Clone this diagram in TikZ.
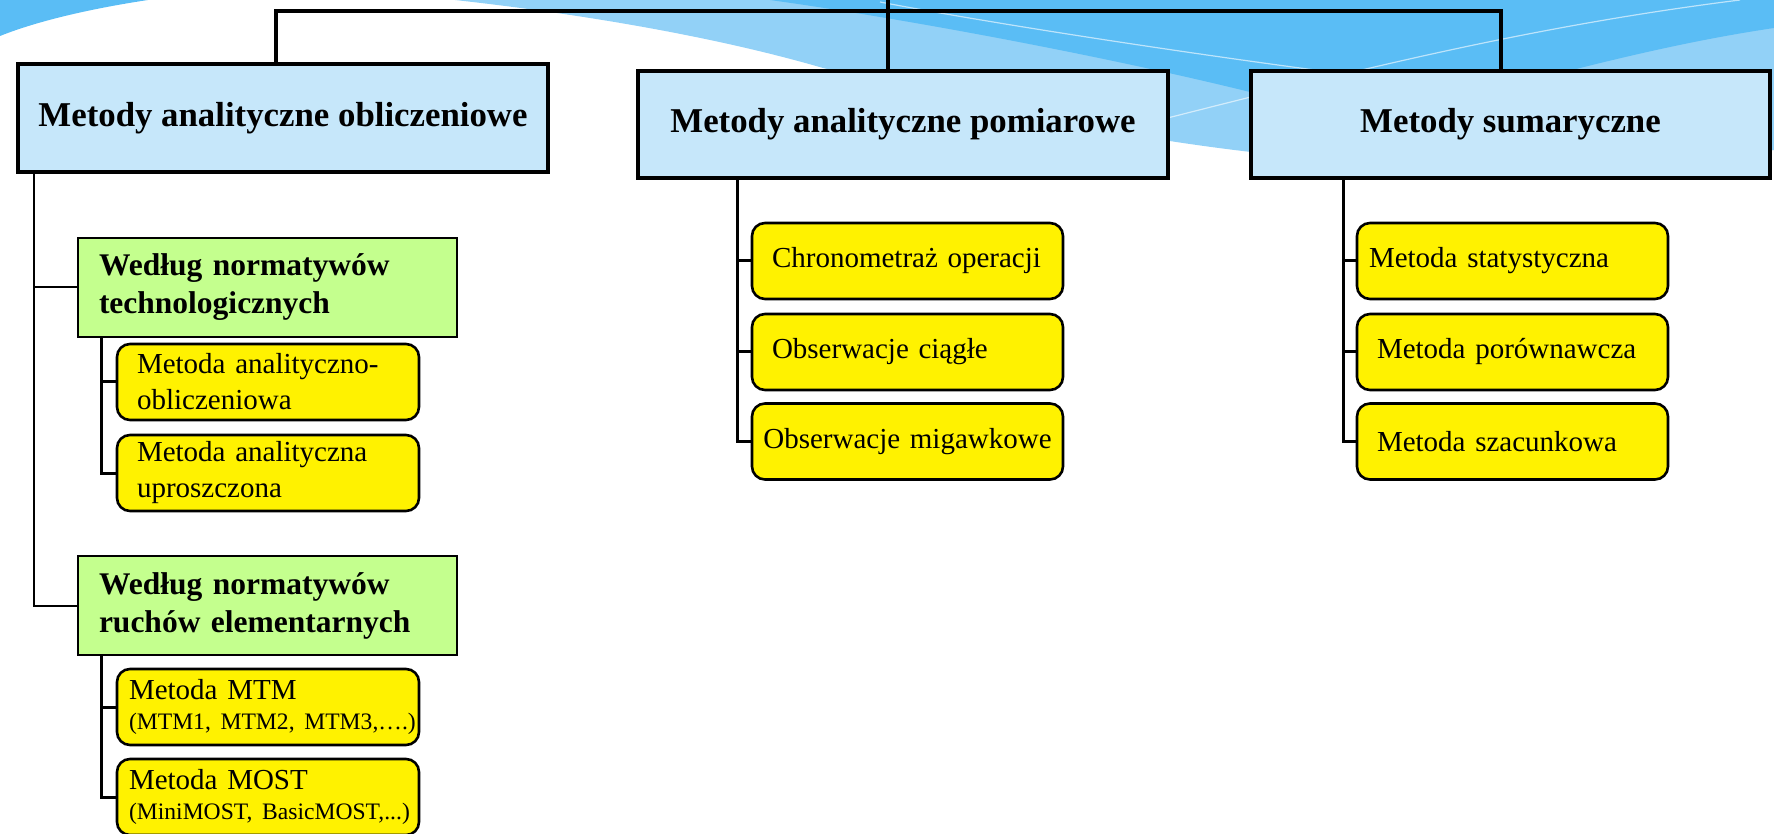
\documentclass[tikz,border=0pt]{standalone}
\usepackage{fontspec}
\setmainfont{Liberation Serif}
\usepackage{xcolor}

\definecolor{skyband}{RGB}{90,189,245}
\definecolor{skylight}{RGB}{146,209,247}
\definecolor{headblue}{RGB}{198,231,250}
\definecolor{leafgreen}{RGB}{196,255,142}

\begin{document}
\begin{tikzpicture}[x=0.5pt, y=-0.5pt,
  head/.style={draw, line width=2pt, fill=headblue, outer sep=0pt, minimum width=265pt, minimum height=53.5pt, font=\bfseries\fontsize{17.4}{21}\selectfont},
  group/.style={draw, line width=1pt, fill=leafgreen, outer sep=0pt, text width=168.5pt, inner xsep=10.5pt, minimum height=49.5pt, align=left, font=\bfseries\fontsize{15.75}{19}\selectfont},
  leaf/.style={draw, line width=1.3pt, fill=yellow, outer sep=0pt, rounded corners=6.5pt, minimum height=38pt, inner ysep=0pt, inner xsep=10pt, align=left, font=\fontsize{14.5}{18}\selectfont},
  trunk/.style={line width=2pt},
  stem/.style={line width=1pt},
  twig/.style={line width=1.5pt}]
  \useasboundingbox (0,0) rectangle (1774,834);

  \fill[skyband] (0,0) -- (148,0) .. controls (95,8) and (40,20) .. (0,36) -- cycle;
  \fill[skylight] (455,0) .. controls (590,15) and (720,38) .. (823,68) .. controls (950,97) and (1080,132) .. (1251,152) .. controls (1450,175) and (1650,170) .. (1774,150) -- (1774,0) -- cycle;
  \fill[skyband] (770,0) .. controls (900,18) and (1100,55) .. (1250,92) .. controls (1400,128) and (1470,100) .. (1580,68) .. controls (1660,48) and (1720,36) .. (1774,28) -- (1774,0) -- cycle;
  \draw[white, line width=0.6pt, opacity=0.6] (880,2) .. controls (1000,25) and (1200,55) .. (1330,72);
  \draw[white, line width=0.6pt, opacity=0.6] (1100,135) .. controls (1300,85) and (1500,30) .. (1740,0);

  \node[head, minimum height=54pt] (obl) at (283,118) {Metody analityczne obliczeniowe};
  \node[head] (pom) at (903,124.5) {Metody analityczne pomiarowe};
  \node[head, minimum width=259.5pt] (sum) at (1510.5,124.5) {Metody sumaryczne};

  \node[group] (tech) at (267.5,287.5) {Według normatywów\\technologicznych};
  \node[group] (ruch) at (267.5,605.5) {Według normatywów\\ruchów elementarnych};

  \node[leaf, text width=131pt] (anobl) at (268,382) {Metoda analityczno-\\obliczeniowa};
  \node[leaf, text width=131pt] (anupr) at (268,473) {Metoda analityczna\\uproszczona};
  \node[leaf, text width=139pt, inner xsep=6pt, font=\fontsize{14.5}{15}\selectfont] (mtm) at (268,707) {Metoda MTM\\\mbox{\fontsize{11.8}{15}\selectfont (MTM1, MTM2, MTM3,….)}};
  \node[leaf, text width=139pt, inner xsep=6pt, font=\fontsize{14.5}{15}\selectfont] (most) at (268,797) {Metoda MOST\\\mbox{\fontsize{11.8}{15}\selectfont (MiniMOST, BasicMOST,...)}};

  \node[leaf, text width=135.5pt] (chrono) at (907.5,261) {Chronometraż operacji};
  \node[leaf, text width=135.5pt] (ciagle) at (907.5,352) {Obserwacje ciągłe};
  \node[leaf, text width=145.5pt, inner xsep=5pt, align=center] (migaw) at (907.5,441.5) {Obserwacje migawkowe};

  \node[leaf, text width=143.5pt, inner xsep=6pt] (stat) at (1512.5,261) {Metoda statystyczna};
  \node[leaf, text width=135.5pt] (porown) at (1512.5,352) {Metoda porównawcza};
  \node[leaf, text width=135.5pt] (szac) at (1512.5,441.5) {Metoda szacunkowa};

  \coordinate (root) at (888,0);
  \coordinate (hub) at (888,11);
  \draw[trunk] (root) -- (root |- pom.north);
  \draw[trunk] ([xshift=-3.5pt]obl.north) |- (hub) -| ([xshift=-4.75pt]sum.north);

  \draw[stem] ([xshift=8pt]obl.south west) |- (tech.west);
  \draw[stem] ([xshift=8pt]obl.south west) |- (ruch.west);

  \draw[twig] ([xshift=11.5pt]tech.south west) |- (anobl.west);
  \draw[twig] ([xshift=11.5pt]tech.south west) |- (anupr.west);
  \draw[twig] ([xshift=11.5pt]ruch.south west) |- (mtm.west);
  \draw[twig] ([xshift=11.5pt]ruch.south west) |- (most.west);

  \draw[twig] ([xshift=49.5pt]pom.south west) |- (chrono.west);
  \draw[twig] ([xshift=49.5pt]pom.south west) |- (ciagle.west);
  \draw[twig] ([xshift=49.5pt]pom.south west) |- (migaw.west);

  \draw[twig] ([xshift=46pt]sum.south west) |- (stat.west);
  \draw[twig] ([xshift=46pt]sum.south west) |- (porown.west);
  \draw[twig] ([xshift=46pt]sum.south west) |- (szac.west);
\end{tikzpicture}
\end{document}
